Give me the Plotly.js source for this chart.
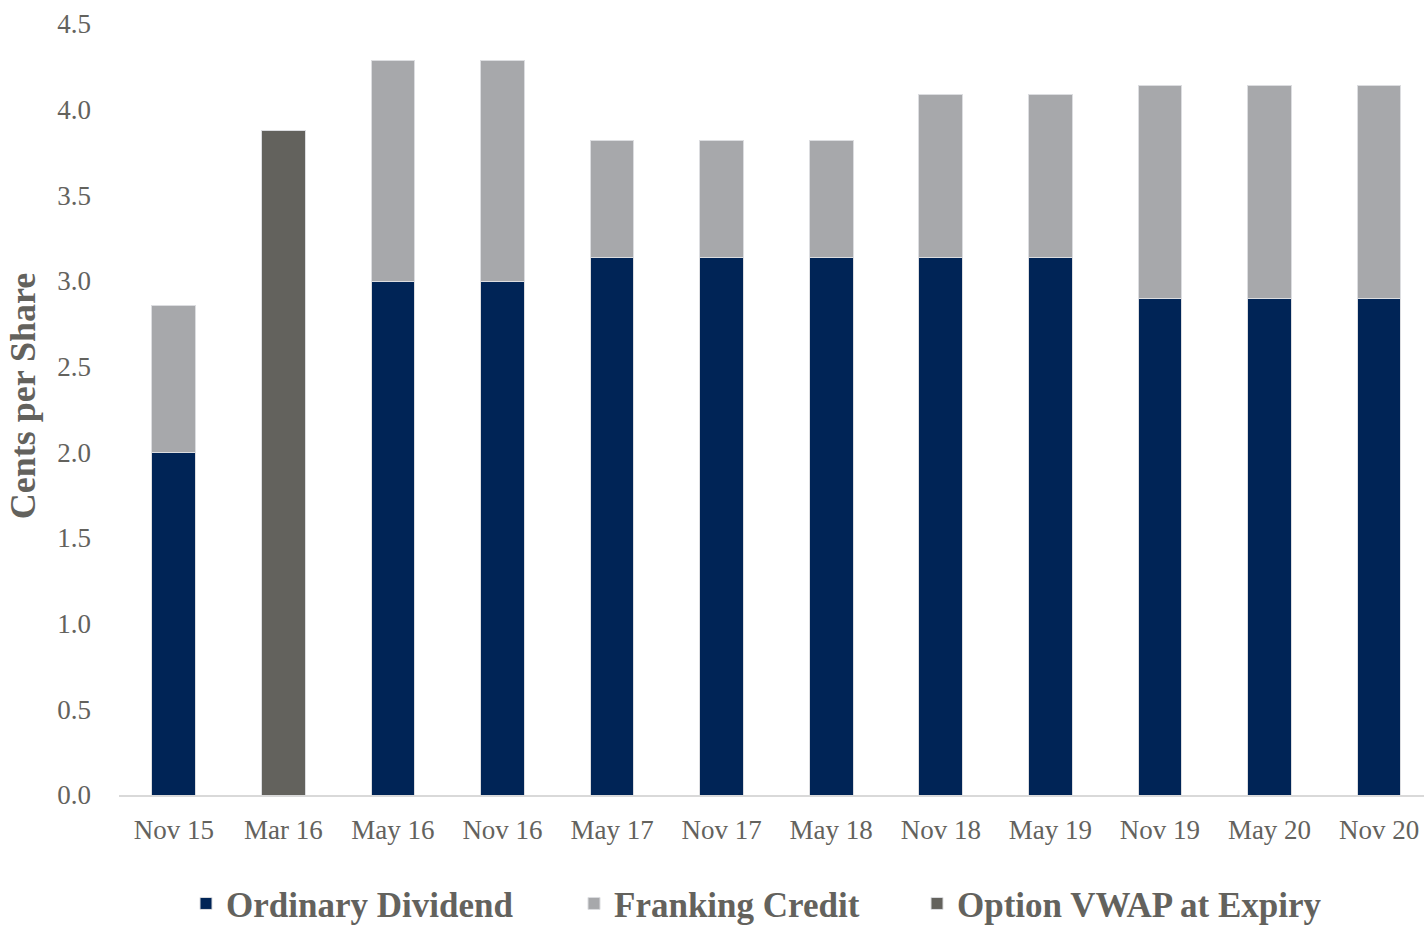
<!DOCTYPE html>
<html>
<head>
<meta charset="utf-8">
<script src="https://cdn.plot.ly/plotly-3.0.1.min.js"></script>
<style>html,body{margin:0;padding:0;background:#fff;}#chart{width:1424px;height:927px;}</style>
</head>
<body>
<div id="chart"></div>
<script>
const categories = ["Nov 15","Mar 16","May 16","Nov 16","May 17","Nov 17","May 18","Nov 18","May 19","Nov 19","May 20","Nov 20"];
const ordinaryDividend = [2.0, null, 3.0, 3.0, 3.14, 3.14, 3.14, 3.14, 3.14, 2.9, 2.9, 2.9];
const frankingCredit = [0.857, null, 1.286, 1.286, 0.68, 0.68, 0.68, 0.95, 0.95, 1.243, 1.243, 1.243];
const optionVWAP = [null, 3.88, null, null, null, null, null, null, null, null, null, null];
const yTicks = [0, 0.5, 1.0, 1.5, 2.0, 2.5, 3.0, 3.5, 4.0, 4.5];

const FONT = "'Liberation Serif', 'DejaVu Serif', serif";
const TXT = "#63625d";
const edge = {color: "#dcdde0", width: 1};
const PL = 119, PW = 1424 - 119;
const px2x = p => (p - PL) / PW;

const legendFont = {family: FONT, size: 35, color: TXT, weight: "bold"};
function leg(px) {
  return {orientation: "h", x: px2x(px), xanchor: "left", y: -0.141, yanchor: "middle",
          font: legendFont, bgcolor: "rgba(0,0,0,0)", itemwidth: 30};
}

const traces = [
  {type: "bar", name: "Ordinary Dividend", x: categories, y: ordinaryDividend,
   marker: {color: "#002456", line: edge}, width: 0.4, legend: "legend"},
  {type: "bar", name: "Franking Credit", x: categories, y: frankingCredit,
   marker: {color: "#a7a8ab", line: edge}, width: 0.4, legend: "legend2"},
  {type: "bar", name: "Option VWAP at Expiry", x: categories, y: optionVWAP,
   marker: {color: "#63625d", line: edge}, width: 0.4, legend: "legend3"}
];

const layout = {
  width: 1424, height: 927,
  barmode: "stack",
  paper_bgcolor: "#fff", plot_bgcolor: "#fff",
  margin: {l: PL, r: 0, t: 24, b: 132, autoexpand: false},
  font: {family: FONT, color: TXT},
  showlegend: true,
  legend: leg(186),
  legend2: leg(574),
  legend3: leg(917),
  xaxis: {type: "category", range: [-0.5, 11.41], showgrid: false, zeroline: false,
          showline: true, linecolor: "#d9d9d9", linewidth: 2,
          ticks: "", tickfont: {family: FONT, size: 27, color: TXT}, ticklabelstandoff: 10,
          fixedrange: true, automargin: false},
  yaxis: {range: [0, 4.5], tickvals: yTicks, ticktext: yTicks.map(v => v.toFixed(1)),
          showgrid: false, zeroline: false, showline: false, ticks: "",
          tickfont: {family: FONT, size: 27, color: TXT}, ticklabelstandoff: 27,
          title: {text: "\u200b\u00a0\u00a0\u00a0Cents per Share", font: {family: FONT, size: 36, color: TXT, weight: "bold"}, standoff: 10},
          fixedrange: true, automargin: false}
};

Plotly.newPlot("chart", traces, layout, {displayModeBar: false, staticPlot: true});
</script>
</body>
</html>
